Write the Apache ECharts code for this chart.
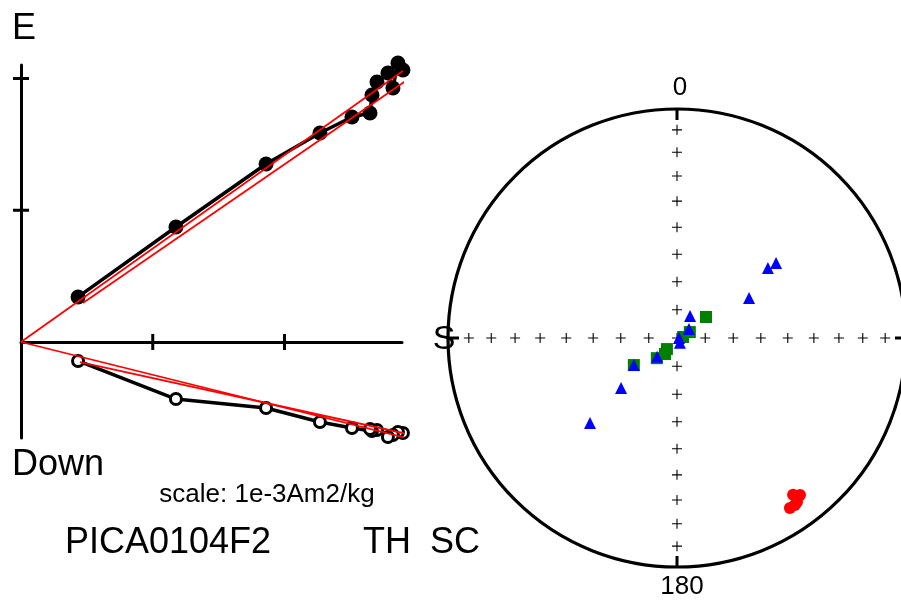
<!DOCTYPE html>
<html><head><meta charset="utf-8">
<script src="https://cdn.jsdelivr.net/npm/echarts@6/dist/echarts.min.js"></script>
<style>html,body{margin:0;padding:0;background:#fff}#c{width:901px;height:601px}</style>
</head><body><div id="c"></div>
<script>
// ---- Zijderveld diagram data (units: 1e-3 Am2/kg), demagnetization steps in order ----
const stepN    = [2.899, 2.861, 2.823, 2.785, 2.702, 2.664, 2.649, 2.512, 2.269, 1.860, 1.176, 0.433];
const stepE    = [2.064, 2.118, 1.928, 2.042, 1.973, 1.875, 1.738, 1.708, 1.586, 1.351, 0.873, 0.342];
const stepDown = [0.691, 0.683, 0.706, 0.721, 0.668, 0.676, 0.661, 0.653, 0.607, 0.501, 0.433, 0.144];
// PCA fit lines [N, value] (horizontal: E; vertical: Down)
const fitHorizA = [[0, 0], [2.899, 2.057]];
const fitHorizB = [[0.470, 0.296], [2.929, 1.988]];
const fitVertA  = [[0, 0], [2.929, 0.729]];
const fitVertB  = [[0.448, 0.152], [2.937, 0.699]];
const axisTicks = [1, 2];

// ---- Equal-area stereonet data (declination, inclination in degrees) ----
const redDec   = [143.5, 141.9, 143.8, 146.4, 144.8];
const redInc   = [15.9, 14.0, 12.3, 11.9, 11.7];
const blueDec  = [52.9, 52.4, 60.9, 30.6, 53.1, 90.0, 149.0, 226.5, 237.9, 228.2, 225.7];
const blueInc  = [44.9, 48.5, 60.5, 80.9, 84.7, 89.3, 88.0, 80.3, 71.9, 63.2, 45.9];
const greenDec = [54.1, 65.2, 80.5, 222.3, 216.9, 225.0, 237.9];
const greenInc = [77.3, 85.0, 87.8, 84.7, 82.9, 79.9, 71.9];
const gratInc  = [10, 20, 30, 40, 50, 60, 70, 80];
const gratDec  = [0, 90, 180, 270];

const eqArea = inc => Math.SQRT2 * Math.sin((90 - Math.abs(inc)) / 2 * Math.PI / 180);
const polarPts = (decs, incs) => decs.map((d, i) => [eqArea(incs[i]), d]);

const grat = [[0, 0]];
gratDec.forEach(d => gratInc.forEach(inc => grat.push([eqArea(inc), d])));

const UNIT = 131.75;
const chart = echarts.init(document.getElementById('c'), null, {renderer: 'canvas'});
const F = '"Liberation Sans", Arial, sans-serif';
const txt = (t, x, y, size, align) => ({
  type: 'text', x: x, y: y, z: 100,
  style: {text: t, fill: '#000', font: size + 'px ' + F, align: align || 'left', verticalAlign: 'middle'}
});
const redLine = d => ({type: 'line', data: d, symbol: 'none', clip: false, z: 5,
  lineStyle: {color: '#ff0000', width: 1.8, opacity: 1}, silent: true});

chart.setOption({
  animation: false,
  backgroundColor: '#fff',
  grid: {left: 21, top: 65, width: 381, height: 373, containLabel: false},
  xAxis: {type: 'value', min: 0, max: 381 / UNIT,
    axisLine: {onZero: true, lineStyle: {color: '#000', width: 3}},
    axisTick: {show: false}, axisLabel: {show: false}, splitLine: {show: false}},
  yAxis: {type: 'value', min: -96 / UNIT, max: 277 / UNIT,
    axisLine: {show: true, onZero: true, lineStyle: {color: '#000', width: 3}},
    axisTick: {show: false}, axisLabel: {show: false}, splitLine: {show: false}},
  polar: {center: [677, 338], radius: 229},
  angleAxis: {type: 'value', min: 0, max: 360, interval: 90, startAngle: 90, clockwise: true,
    axisLine: {show: true, lineStyle: {color: '#000', width: 3.2}},
    axisTick: {show: true, inside: true, length: 11, lineStyle: {color: '#000', width: 3}},
    axisLabel: {show: false}, splitLine: {show: false}},
  radiusAxis: {type: 'value', min: 0, max: 1,
    axisLine: {show: false}, axisTick: {show: false}, axisLabel: {show: false}, splitLine: {show: false}},
  graphic: [
    txt('E', 12, 29, 36),
    txt('Down', 12, 465, 36),
    txt('scale: 1e-3Am2/kg', 267, 495, 26, 'center'),
    txt('PICA0104F2', 65, 543, 36),
    txt('TH', 363, 543, 36),
    txt('SC', 430, 543, 36),
    txt('0', 680, 88, 26, 'center'),
    txt('180', 682, 587, 26, 'center'),
    txt('S', 444, 340, 34, 'center')
  ],
  series: [
    {type: 'scatter', data: axisTicks.map(v => [v, 0]), symbol: 'rect', symbolSize: [3, 16],
      itemStyle: {color: '#000', opacity: 1}, clip: false, z: 1, silent: true},
    {type: 'scatter', data: axisTicks.map(v => [0, v]), symbol: 'rect', symbolSize: [16, 3],
      itemStyle: {color: '#000', opacity: 1}, clip: false, z: 1, silent: true},
    {type: 'line', data: stepN.map((n, i) => [n, stepE[i]]), symbol: 'circle', symbolSize: 15,
      itemStyle: {color: '#000', opacity: 1}, lineStyle: {color: '#000', width: 3.5}, clip: false, z: 2, silent: true},
    {type: 'line', data: stepN.map((n, i) => [n, -stepDown[i]]), symbol: 'circle', symbolSize: 11,
      itemStyle: {color: '#fff', borderColor: '#000', borderWidth: 3, opacity: 1},
      lineStyle: {color: '#000', width: 3.5}, clip: false, z: 2, silent: true},
    redLine(fitHorizA), redLine(fitHorizB),
    redLine(fitVertA.map(p => [p[0], -p[1]])), redLine(fitVertB.map(p => [p[0], -p[1]])),
    {type: 'scatter', coordinateSystem: 'polar', data: grat,
      symbol: 'path://M0,4.45H10V5.55H0Z M4.45,0H5.55V10H4.45Z', symbolSize: 10,
      itemStyle: {color: '#000', opacity: 1}, z: 1, silent: true},
    {type: 'scatter', coordinateSystem: 'polar', data: polarPts(greenDec, greenInc),
      symbol: 'rect', symbolSize: 12, itemStyle: {color: '#008000', opacity: 1}, z: 3, silent: true},
    {type: 'scatter', coordinateSystem: 'polar', data: polarPts(blueDec, blueInc),
      symbol: 'triangle', symbolSize: 12, itemStyle: {color: '#0000ff', opacity: 1}, z: 4, silent: true},
    {type: 'scatter', coordinateSystem: 'polar', data: polarPts(redDec, redInc),
      symbol: 'circle', symbolSize: 12, itemStyle: {color: '#ff0000', opacity: 1}, z: 5, silent: true}
  ]
});
</script></body></html>
